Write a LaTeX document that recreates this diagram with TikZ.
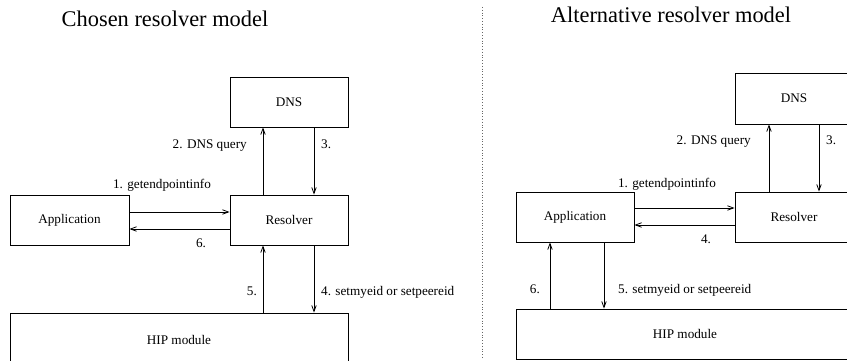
\documentclass[tikz,border=0pt]{standalone}
\usepackage{fontspec}
\setmainfont{Liberation Serif}
\usetikzlibrary{arrows.meta}
\begin{document}
\begin{tikzpicture}[x=1pt,y=-1pt,
  box/.style={draw,line width=0.9pt,minimum width=118pt,minimum height=50pt,inner sep=0pt,font=\fontsize{13.2}{15}\selectfont},
  hipbox/.style={box,minimum width=338pt},
  lbl/.style={font=\fontsize{13.2}{15}\selectfont,inner sep=0pt},
  ttl/.style={font=\fontsize{22.4}{26}\selectfont,inner sep=0pt,anchor=base},
  conn/.style={line width=0.8pt,-{Straight Barb[length=6pt,width=4.5pt]}}]
\useasboundingbox (0,0) rectangle (847,361);
\clip (0,0) rectangle (847,361);
\fill[white] (0,0) rectangle (847,361);
% divider
\coordinate (d1) at (482,7);
\coordinate (d2) at (482,358);
\draw[gray!80!black,dotted,line width=0.8pt] (d1) -- (d2);
% ---------- left panel ----------
\node[ttl] (t1) at (165,27) {Chosen resolver model};
\node[box] (dnsL) at (289,102) {DNS};
\node[box] (resL) at (289,220) {Resolver};
\node[box,minimum width=119pt] (appL) at (69.5,220) {Application};
\node[hipbox,minimum height=54pt] (hipL) at (179,340) {HIP module};
\draw[conn] (resL.north -| 263,0) -- (dnsL.south -| 263,0);
\draw[conn] (dnsL.south -| 314,0) -- (resL.north -| 314,0);
\draw[conn] (appL.east |- 0,212) -- (resL.west |- 0,212);
\draw[conn] (resL.west |- 0,229) -- (appL.east |- 0,229);
\draw[conn] (hipL.north -| 263,0) -- (resL.south -| 263,0);
\draw[conn] (resL.south -| 314,0) -- (hipL.north -| 314,0);
\node[lbl,anchor=base east] (l2L) at (247,148) {2. DNS query};
\node[lbl,anchor=base west] (l3L) at (321,148) {3.};
\node[lbl,anchor=base] (l1L) at (162,188) {1. getendpointinfo};
\node[lbl,anchor=base] (l6L) at (201,247) {6.};
\node[lbl,anchor=base east] (l5L) at (257,295) {5.};
\node[lbl,anchor=base west] (l4L) at (321,295) {4. setmyeid or setpeereid};
% ---------- right panel ----------
\node[ttl] (t2) at (671,23) {Alternative resolver model};
\node[box,minimum height=51pt] (dnsR) at (794,98.5) {DNS};
\node[box] (resR) at (794,217) {Resolver};
\node[box] (appR) at (575,217) {Application};
\node[hipbox] (hipR) at (685,334) {HIP module};
\draw[conn] (resR.north -| 769,0) -- (dnsR.south -| 769,0);
\draw[conn] (dnsR.south -| 819,0) -- (resR.north -| 819,0);
\draw[conn] (appR.east |- 0,208) -- (resR.west |- 0,208);
\draw[conn] (resR.west |- 0,225) -- (appR.east |- 0,225);
\draw[conn] (hipR.north -| 550,0) -- (appR.south -| 550,0);
\draw[conn] (appR.south -| 604,0) -- (hipR.north -| 604,0);
\node[lbl,anchor=base east] (l2R) at (751,145) {2. DNS query};
\node[lbl,anchor=base west] (l3R) at (826,145) {3.};
\node[lbl,anchor=base] (l1R) at (667,187) {1. getendpointinfo};
\node[lbl,anchor=base] (l4R) at (706,243) {4.};
\node[lbl,anchor=base east] (l6R) at (540,293) {6.};
\node[lbl,anchor=base west] (l5R) at (618,293) {5. setmyeid or setpeereid};
\end{tikzpicture}
\end{document}
